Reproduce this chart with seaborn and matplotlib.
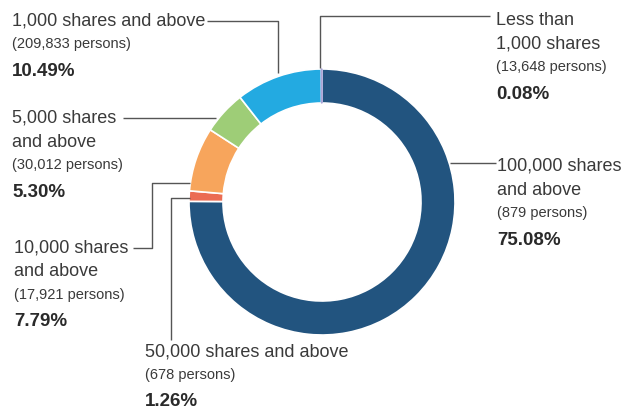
#!/usr/bin/env python3

import matplotlib
matplotlib.use("Agg")
import matplotlib.pyplot as plt
import seaborn as sns

# shareholding distribution, clockwise from 12 o'clock
categories = ["100,000 shares and above", "50,000 shares and above",
              "10,000 shares and above", "5,000 shares and above",
              "1,000 shares and above", "Less than 1,000 shares"]
shares_pct = [75.08, 1.26, 7.79, 5.30, 10.49, 0.08]
persons = ["879", "678", "17,921", "30,012", "209,833", "13,648"]
colors = ["#22547f", "#eb6c53", "#f7a55c", "#9ecd77", "#23aae1", "#aaa4d6"]

# label text lines per category (wrapped like the original)
label_lines = {
    "100,000 shares and above": ["100,000 shares", "and above"],
    "50,000 shares and above": ["50,000 shares and above"],
    "10,000 shares and above": ["10,000 shares", "and above"],
    "5,000 shares and above": ["5,000 shares", "and above"],
    "1,000 shares and above": ["1,000 shares and above"],
    "Less than 1,000 shares": ["Less than", "1,000 shares"],
}

W, H = 624, 411

sns.set_theme(style="white")
plt.rcParams["font.family"] = ["Liberation Sans", "DejaVu Sans"]

fig = plt.figure(figsize=(W / 100, H / 100), dpi=100)
ax = fig.add_axes([0, 0, 1, 1])

cx, cy = 322, H - 202
wedges, _ = ax.pie(shares_pct, colors=colors, startangle=90, counterclock=False,
                   center=(cx, cy), radius=133,
                   wedgeprops=dict(width=34, edgecolor="white", linewidth=1.2))
# the tiny slice needs its own outline to stay visible
wedges[-1].set_edgecolor(colors[-1])
wedges[-1].set_linewidth(1.0)

ax.set_xlim(0, W)
ax.set_ylim(0, H)
ax.set_aspect("equal")
ax.axis("off")

# label anchor (left x, top line y in pixel coords from top)
anchors = {
    "1,000 shares and above": (12, 21),
    "5,000 shares and above": (12, 118),
    "10,000 shares and above": (14, 248),
    "50,000 shares and above": (145, 352),
    "Less than 1,000 shares": (496, 20),
    "100,000 shares and above": (497, 166),
}

txt_col = "#3a3a3a"
for cat, pct, pers in zip(categories, shares_pct, persons):
    x, y = anchors[cat]
    for line in label_lines[cat]:
        ax.text(x, H - y, line, fontsize=13, color=txt_col, va="center", ha="left")
        y += 24
    y -= 1
    ax.text(x, H - y, f"({pers} persons)", fontsize=10.5, color=txt_col, va="center", ha="left")
    y += 27
    ax.text(x, H - y, f"{pct:.2f}%", fontsize=13.5, fontweight="bold", color="#2a2a2a",
            va="center", ha="left")

# leader lines (pixel coords from top)
leaders = [
    [(207, 21), (278, 21), (278, 73)],
    [(490, 16), (320, 16), (320, 68)],
    [(450, 163), (496, 163)],
    [(123, 118), (216, 118)],
    [(133, 248), (152, 248), (152, 183), (190, 183)],
    [(171, 340), (171, 198), (190, 198)],
]
for pts in leaders:
    xs = [p[0] for p in pts]
    ys = [H - p[1] for p in pts]
    ax.plot(xs, ys, color="#555555", lw=1.0, solid_capstyle="butt")

fig.savefig("out.png", dpi=100)
